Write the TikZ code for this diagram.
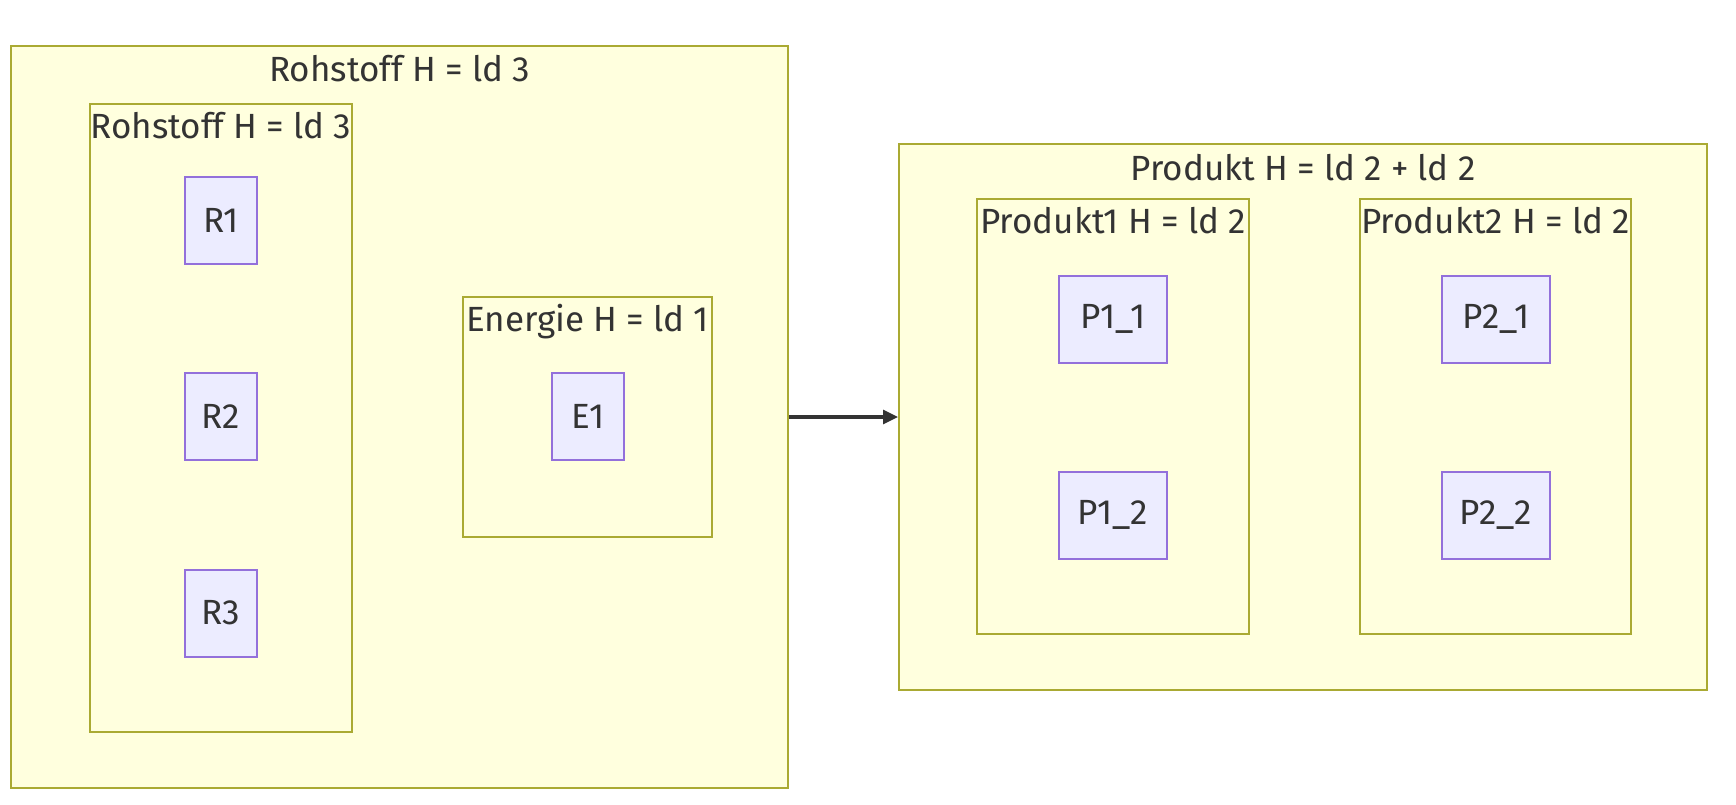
\documentclass[tikz,border=0pt]{standalone}
\usepackage{fontspec}
\setmainfont{Fira Sans}
\usetikzlibrary{arrows.meta,fit}

\definecolor{clusterfill}{HTML}{FFFFDE}
\definecolor{clusterline}{HTML}{AAAA33}
\definecolor{itemfill}{HTML}{ECECFF}
\definecolor{itemline}{HTML}{9370DB}
\definecolor{textgray}{HTML}{333333}

\begin{document}
\begin{tikzpicture}[
    x=0.5pt, y=-0.5pt,
    cluster/.style={draw=clusterline, fill=clusterfill, line width=1pt, inner sep=0pt},
    cluster title/.style={font=\fontsize{17.5}{21}\selectfont, text=textgray, inner sep=0pt},
    item/.style={draw=itemline, fill=itemfill, line width=1pt, minimum width=36pt, minimum height=43.5pt, inner sep=0pt, font=\fontsize{17.5}{21}\selectfont, text=textgray},
    wide item/.style={item, minimum width=54.3pt},
    flow/.style={-{Triangle[length=7.5pt,width=7pt]}, line width=1.6pt, textgray}
]
\useasboundingbox (0,0) rectangle (1736,804);

% Rohstoff
\node[cluster, fit={(11,46) (788,788)}] (rohstoff) {};
\node[cluster title] (rohstoffT) at ([yshift=-12pt]rohstoff.north) {Rohstoff H = ld 3};

\node[cluster, fit={(90,104) (352,732)}] (rohstoffIn) {};
\node[cluster title] (rohstoffInT) at ([yshift=-11.5pt]rohstoffIn.north) {Rohstoff H = ld 3};
\node[item] (R1) at (221,220) {R1};
\node[item] (R2) at (221,416) {R2};
\node[item] (R3) at (221,613) {R3};

% Energie
\node[cluster, fit={(463,297) (712,537)}] (energie) {};
\node[cluster title] (energieT) at ([yshift=-13pt]energie.north) {Energie H = ld 1};
\node[item] (E1) at (588,416) {E1};

% Produkt
\node[cluster, fit={(899,144) (1707,690)}] (produkt) {};
\node[cluster title] (produktT) at ([yshift=-12.5pt]produkt.north) {Produkt H = ld 2 + ld 2};

\node[cluster, fit={(977,199) (1249,634)}] (produktA) {};
\node[cluster title] (produktAT) at ([yshift=-11.5pt]produktA.north) {Produkt1 H = ld 2};
\node[wide item] (P11) at (1113,319) {P1\_1};
\node[wide item] (P12) at (1113,515) {P1\_2};

\node[cluster, fit={(1360,199) (1631,634)}] (produktB) {};
\node[cluster title] (produktBT) at ([yshift=-11.5pt]produktB.north) {Produkt2 H = ld 2};
\node[wide item] (P21) at (1496,319) {P2\_1};
\node[wide item] (P22) at (1496,515) {P2\_2};

% Flow
\draw[flow] (rohstoff.east) -- (produkt.west);

\end{tikzpicture}
\end{document}
